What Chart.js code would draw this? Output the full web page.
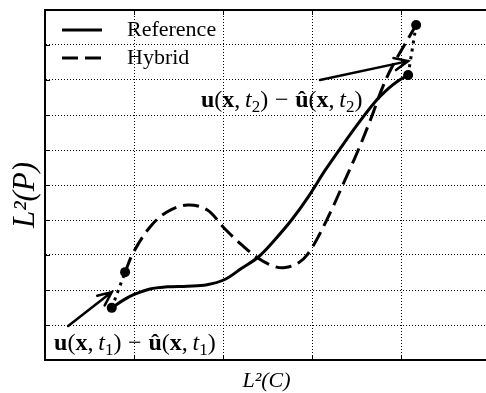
<!DOCTYPE html>
<html>
<head>
<meta charset="utf-8">
<script src="https://cdn.jsdelivr.net/npm/chart.js@4.4.0/dist/chart.umd.min.js"></script>
<style>
  html, body { margin: 0; padding: 0; background: #fff; }
  #holder { width: 486px; height: 393px; }
</style>
</head>
<body>
<div id="holder"><canvas id="chart" width="486" height="393"></canvas></div>
<script>
"use strict";

// Reference solution trajectory, L2(C) on x, L2(P) on y
const referenceX = [0.75, 0.88, 0.99, 1.18, 1.37, 1.60, 1.82, 2.02, 2.21, 2.40,
                    2.58, 2.77, 2.96, 3.15, 3.33, 3.52, 3.71, 3.86, 3.97, 4.08];
const referenceY = [1.49, 1.71, 1.86, 2.03, 2.09, 2.11, 2.15, 2.30, 2.62, 2.95,
                    3.43, 4.00, 4.67, 5.43, 6.09, 6.76, 7.38, 7.76, 7.98, 8.14];

// Hybrid solution trajectory
const hybridX = [0.90, 0.99, 1.18, 1.37, 1.60, 1.82, 2.02, 2.21, 2.40, 2.58, 2.70,
                 2.85, 2.95, 3.07, 3.22, 3.37, 3.52, 3.67, 3.78, 3.90, 4.17];
const hybridY = [2.51, 3.06, 3.80, 4.23, 4.43, 4.29, 3.75, 3.29, 2.90, 2.67, 2.64,
                 2.78, 3.02, 3.52, 4.29, 5.14, 6.00, 6.95, 7.71, 8.38, 9.57];

// Arrows pointing at the error between the two solutions
const arrowFromX = [0.26, 3.09];
const arrowFromY = [0.97, 8.00];
const arrowToX = [0.75, 4.08];
const arrowToY = [1.94, 8.54];

// Error labels (centre x, baseline y) and time index
const labelX = [1.01, 2.66];
const labelY = [0.29, 7.23];
const labelTime = ['1', '2'];

const xTitle = 'L\u00b2(C)';
const yTitle = 'L\u00b2(P)';

const serif = '"Liberation Serif", "DejaVu Serif", serif';

function toPoints(xs, ys) {
  return xs.map((x, i) => ({x: x, y: ys[i]}));
}

const refPts = toPoints(referenceX, referenceY);
const hybPts = toPoints(hybridX, hybridY);
const firstRef = refPts[0], lastRef = refPts[refPts.length - 1];
const firstHyb = hybPts[0], lastHyb = hybPts[hybPts.length - 1];

function mathSegments(sub) {
  return [
    {text: 'u', style: 'bold'},
    {text: '('},
    {text: 'x', style: 'bold'},
    {text: ','},
    {text: 't', style: 'italic', before: 0.2},
    {text: sub, sub: true},
    {text: ')'},
    {text: '\u2212', before: 0.28, after: 0.28},
    {text: '\u00fb', style: 'bold'},
    {text: '('},
    {text: 'x', style: 'bold'},
    {text: ','},
    {text: 't', style: 'italic', before: 0.2},
    {text: sub, sub: true},
    {text: ')'}
  ];
}

function segFont(seg, size) {
  if (seg.sub) return Math.round(size * 0.72) + 'px ' + serif;
  return (seg.style ? seg.style + ' ' : '') + size + 'px ' + serif;
}

function drawMath(ctx, segs, cx, baseline, size) {
  let total = 0;
  const widths = segs.map(function(s) {
    ctx.font = segFont(s, size);
    const w = ctx.measureText(s.text).width;
    total += w + ((s.before || 0) + (s.after || 0)) * size;
    return w;
  });
  let x = cx - total / 2;
  ctx.textAlign = 'left';
  ctx.textBaseline = 'alphabetic';
  segs.forEach(function(s, i) {
    x += (s.before || 0) * size;
    ctx.font = segFont(s, size);
    ctx.fillText(s.text, x, baseline + (s.sub ? size * 0.2 : 0));
    x += widths[i] + (s.after || 0) * size;
  });
}

function drawArrow(ctx, x1, y1, x2, y2) {
  const ang = Math.atan2(y2 - y1, x2 - x1);
  const head = 15, spread = 0.42;
  ctx.beginPath();
  ctx.moveTo(x1, y1);
  ctx.lineTo(x2, y2);
  ctx.moveTo(x2 - head * Math.cos(ang - spread), y2 - head * Math.sin(ang - spread));
  ctx.lineTo(x2, y2);
  ctx.lineTo(x2 - head * Math.cos(ang + spread), y2 - head * Math.sin(ang + spread));
  ctx.stroke();
}

const decorations = {
  id: 'decorations',
  afterDraw(chart) {
    const ctx = chart.ctx;
    const area = chart.chartArea;
    const xs = chart.scales.x, ys = chart.scales.y;
    ctx.save();
    ctx.strokeStyle = '#000';
    ctx.fillStyle = '#000';
    ctx.setLineDash([]);

    // top frame line
    ctx.lineWidth = 2;
    ctx.beginPath();
    ctx.moveTo(area.left - 1, area.top);
    ctx.lineTo(area.right, area.top);
    ctx.stroke();

    // inward tick marks
    ctx.lineWidth = 1;
    ctx.beginPath();
    xs.ticks.forEach(function(t) {
      const px = Math.round(xs.getPixelForValue(t.value)) + 0.5;
      ctx.moveTo(px, area.bottom);
      ctx.lineTo(px, area.bottom - 5);
      ctx.moveTo(px, area.top);
      ctx.lineTo(px, area.top + 5);
    });
    ys.ticks.forEach(function(t) {
      const py = Math.round(ys.getPixelForValue(t.value)) + 0.5;
      ctx.moveTo(area.left, py);
      ctx.lineTo(area.left + 5, py);
    });
    ctx.stroke();

    // arrows
    ctx.lineWidth = 2.5;
    ctx.lineCap = 'round';
    arrowFromX.forEach(function(x, i) {
      drawArrow(ctx, xs.getPixelForValue(x), ys.getPixelForValue(arrowFromY[i]),
                xs.getPixelForValue(arrowToX[i]), ys.getPixelForValue(arrowToY[i]));
    });

    // error labels
    labelX.forEach(function(x, i) {
      drawMath(ctx, mathSegments(labelTime[i]), xs.getPixelForValue(x),
               ys.getPixelForValue(labelY[i]), 24);
    });

    // legend in the upper left corner
    ctx.lineCap = 'butt';
    let row = 0;
    chart.data.datasets.forEach(function(ds) {
      if (!ds.showInLegend) return;
      const y = area.top + 20 + row * 28;
      ctx.lineWidth = ds.borderWidth;
      ctx.setLineDash(ds.borderDash || []);
      ctx.beginPath();
      ctx.moveTo(area.left + 17, y);
      ctx.lineTo(area.left + 57, y);
      ctx.stroke();
      ctx.setLineDash([]);
      ctx.font = '22px ' + serif;
      ctx.textAlign = 'left';
      ctx.textBaseline = 'alphabetic';
      ctx.fillText(ds.label, area.left + 82, y + 6);
      row++;
    });

    // axis titles
    ctx.textAlign = 'center';
    ctx.textBaseline = 'middle';
    ctx.font = 'italic 22px ' + serif;
    ctx.fillText(xTitle, (area.left + area.right) / 2 + 1, area.bottom + 21);
    ctx.save();
    ctx.translate(area.left - 19, (area.top + area.bottom) / 2 + 10);
    ctx.rotate(-Math.PI / 2);
    ctx.font = 'italic 31px ' + serif;
    ctx.fillText(yTitle, 0, 0);
    ctx.restore();

    ctx.restore();
  }
};

new Chart(document.getElementById('chart'), {
  type: 'line',
  data: {
    datasets: [
      {
        label: 'Reference', data: refPts, showInLegend: true,
        borderColor: '#000', borderWidth: 3, pointRadius: 0, tension: 0.35
      },
      {
        label: 'Hybrid', data: hybPts, showInLegend: true,
        borderColor: '#000', borderWidth: 3, borderDash: [16, 7], pointRadius: 0,
        tension: 0.35
      },
      {
        label: 'error t1', data: [firstRef, firstHyb],
        borderColor: '#000', borderWidth: 3, borderDash: [3, 5], pointRadius: 0
      },
      {
        label: 'error t2', data: [lastRef, lastHyb],
        borderColor: '#000', borderWidth: 3, borderDash: [3, 5], pointRadius: 0
      },
      {
        label: 'states', data: [firstRef, firstHyb, lastRef, lastHyb],
        showLine: false, pointRadius: 5, pointBackgroundColor: '#000',
        pointBorderWidth: 0, borderColor: '#000'
      }
    ]
  },
  options: {
    responsive: false,
    animation: false,
    devicePixelRatio: 1,
    layout: { autoPadding: false, padding: { top: 10, right: 0, bottom: 33, left: 45 } },
    plugins: { legend: { display: false }, tooltip: { enabled: false } },
    scales: {
      x: {
        type: 'linear', min: 0, max: 4.955,
        ticks: { display: false, stepSize: 1, includeBounds: false },
        grid: { color: '#000', lineWidth: 1, drawTicks: false },
        border: { color: '#000', width: 2, dash: [1, 2] }
      },
      y: {
        type: 'linear', min: 0, max: 10,
        ticks: { display: false, stepSize: 1, includeBounds: false },
        grid: { color: '#000', lineWidth: 1, drawTicks: false },
        border: { color: '#000', width: 2, dash: [1, 2] }
      }
    }
  },
  plugins: [decorations]
});
</script>
</body>
</html>
